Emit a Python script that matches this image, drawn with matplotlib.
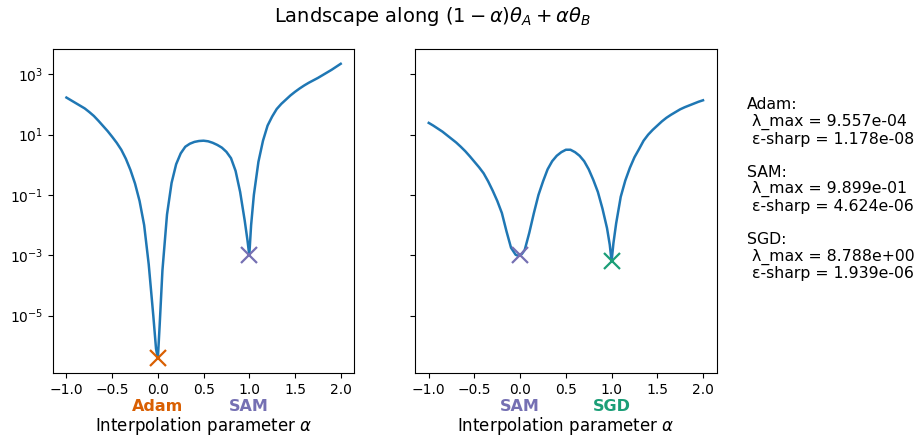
import numpy as np
import matplotlib
matplotlib.use("Agg")
import matplotlib.pyplot as plt

# interpolation grid (alpha) and log10 loss
alpha = [-1.00, -0.95, -0.90, -0.85, -0.80, -0.75, -0.70, -0.65, -0.60, -0.55,
         -0.50, -0.45, -0.40, -0.35, -0.30, -0.25, -0.20, -0.15, -0.10, -0.05,
         -0.02, 0.00, 0.02, 0.05, 0.10, 0.15, 0.20, 0.25, 0.30, 0.35,
         0.40, 0.45, 0.50, 0.55, 0.60, 0.65, 0.70, 0.75, 0.80, 0.85,
         0.90, 0.95, 0.98, 1.00, 1.02, 1.05, 1.10, 1.15, 1.20, 1.25,
         1.30, 1.35, 1.40, 1.45, 1.50, 1.55, 1.60, 1.65, 1.70, 1.75,
         1.80, 1.85, 1.90, 1.95, 2.00]

# Adam -> SAM
log_loss_adam_sam = [2.23, 2.14, 2.05, 1.96, 1.87, 1.75, 1.62, 1.46, 1.29, 1.12,
                     0.93, 0.73, 0.50, 0.20, -0.17, -0.62, -1.20, -2.00, -3.30, -5.00,
                     -6.10, -6.42, -5.30, -3.50, -1.65, -0.60, 0.02, 0.38, 0.60, 0.70,
                     0.76, 0.79, 0.80, 0.78, 0.73, 0.66, 0.57, 0.43, 0.22, -0.20,
                     -0.90, -1.85, -2.50, -3.00, -2.00, -1.00, 0.10, 0.80, 1.30, 1.60,
                     1.85, 2.02, 2.16, 2.30, 2.42, 2.53, 2.63, 2.72, 2.80, 2.88,
                     2.97, 3.06, 3.15, 3.25, 3.35]

# SAM -> SGD
log_loss_sam_sgd = [1.39, 1.30, 1.20, 1.10, 0.98, 0.86, 0.74, 0.60, 0.45, 0.28,
                    0.10, -0.08, -0.28, -0.55, -0.86, -1.20, -1.60, -2.20, -2.75, -2.98,
                    -3.02, -3.00, -2.95, -2.82, -2.25, -1.60, -1.00, -0.55, -0.15, 0.12,
                    0.30, 0.42, 0.50, 0.50, 0.42, 0.30, 0.12, -0.15, -0.50, -0.90,
                    -1.45, -2.10, -2.65, -3.20, -2.60, -1.94, -1.06, -0.52, -0.10, 0.25,
                    0.52, 0.80, 1.00, 1.16, 1.30, 1.44, 1.56, 1.66, 1.75, 1.84,
                    1.91, 1.97, 2.03, 2.09, 2.14]

panels = [
    (log_loss_adam_sam, "Adam", "SAM"),
    (log_loss_sam_sgd, "SAM", "SGD"),
]

colors = {"Adam": "#d95f02", "SAM": "#7570b3", "SGD": "#1b9e77"}

stats_text = ("Adam:\n λ_max = 9.557e-04\n ε-sharp = 1.178e-08\n\n"
              "SAM:\n λ_max = 9.899e-01\n ε-sharp = 4.624e-06\n\n"
              "SGD:\n λ_max = 8.788e+00\n ε-sharp = 1.939e-06")

fig = plt.figure(figsize=(9.17, 4.38), dpi=100)
ax1 = fig.add_axes([0.0575, 0.148, 0.329, 0.740])
ax2 = fig.add_axes([0.4526, 0.148, 0.329, 0.740], sharey=ax1)

a = np.array(alpha)
for ax, (logs, name_a, name_b) in zip([ax1, ax2], panels):
    loss = 10.0 ** np.array(logs)
    ax.plot(a, loss, color="#1f77b4", lw=1.8)
    ax.set_yscale("log")
    # endpoints
    for pos, name in [(0.0, name_a), (1.0, name_b)]:
        idx = alpha.index(pos)
        ax.plot(pos, loss[idx], marker="x", color=colors[name],
                markersize=12, mew=1.6, linestyle="none")
        ax.text(pos, -0.104, name, transform=ax.get_xaxis_transform(),
                ha="center", va="center", color=colors[name],
                fontsize=11.5, fontweight="bold")
    ax.set_xticks([-1.0, -0.5, 0.0, 0.5, 1.0, 1.5, 2.0])
    ax.set_xlabel(r"Interpolation parameter $\alpha$", fontsize=12, labelpad=13)
    ax.yaxis.set_minor_locator(matplotlib.ticker.NullLocator())

plt.setp(ax2.get_yticklabels(), visible=False)

fig.text(0.471, 0.963, r"Landscape along $(1-\alpha)\theta_A + \alpha\theta_B$",
         ha="center", va="center", fontsize=14)
fig.text(0.815, 0.778, stats_text, ha="left", va="top", fontsize=11.3,
         linespacing=1.13)

fig.savefig("out.png", dpi=100)
